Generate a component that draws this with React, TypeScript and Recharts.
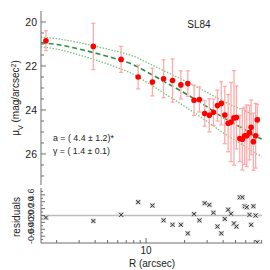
import React from 'react';
import { ComposedChart, Scatter, Line, XAxis, YAxis, ErrorBar, ReferenceLine } from 'recharts';

// measured profile (R in arcsec, mu_V in mag/arcsec^2)
const radii = [1.65, 3.87, 6.38, 8.67, 11.2, 13.7, 16.1, 18.7, 21.2, 23.7, 26.1, 28.7, 31.2, 33.6, 36.1, 38.7, 41.2, 43.8, 46.1, 48.6, 50.8, 54.0, 56.5, 59.0, 61.2, 64.3, 66.2, 68.9, 71.8, 73.9];
const surfaceBrightness = [20.85, 21.11, 21.7, 22.5, 22.73, 22.58, 22.66, 22.86, 22.8, 23.56, 23.52, 24.16, 24.24, 24.1, 23.8, 23.7, 24.23, 24.6, 24.55, 24.36, 24.34, 25.3, 25.33, 25.17, 25.17, 25.03, 24.79, 25.44, 25.17, 24.45];
const errors = [0.45, 1.05, 0.59, 0.54, 0.63, 0.86, 0.98, 0.64, 0.58, 0.69, 0.57, 0.58, 0.75, 0.6, 0.7, 0.98, 1.3, 1.3, 1.8, 2.15, 1.43, 1.05, 1.4, 1.3, 1.4, 1.24, 1.24, 1.3, 1.47, 0.7];
const residuals = [-0.06, -0.16, 0.02, 0.39, 0.29, -0.14, -0.27, -0.27, -0.52, 0.04, -0.14, 0.36, 0.31, 0.08, -0.32, -0.52, -0.1, 0.17, 0.05, -0.23, -0.32, 0.53, 0.53, 0.27, 0.24, 0.02, -0.27, 0.27, 0.0, -0.78];

// fitted model and its band
const modelR = [1.5, 2, 3, 4, 6, 8, 10, 15, 20, 30, 40, 50, 60, 70, 80];
const modelMu = [20.94, 21.02, 21.23, 21.41, 21.7, 21.95, 22.25, 22.82, 23.23, 23.86, 24.34, 24.66, 24.91, 25.17, 25.32];
const upperMu = [20.69, 20.76, 20.94, 21.1, 21.35, 21.56, 21.82, 22.32, 22.67, 23.2, 23.6, 23.86, 24.05, 24.27, 24.37];
const lowerMu = [21.13, 21.23, 21.5, 21.72, 22.08, 22.38, 22.72, 23.37, 23.83, 24.52, 25.04, 25.39, 25.66, 25.94, 26.1];

const rTicks = [2, 3, 4, 5, 6, 7, 8, 9, 10, 20, 30, 40, 50, 60, 70, 80];
const muTicks = [20, 20.5, 21, 21.5, 22, 22.5, 23, 23.5, 24, 24.5, 25, 25.5, 26, 26.5, 27];
const muLabels = [20, 22, 24, 26];
const resTicks = [-0.7, -0.6, -0.5, -0.4, -0.3, -0.2, -0.1, 0, 0.1, 0.2, 0.3, 0.4, 0.5, 0.6, 0.7];
const resLabels: { [k: string]: string } = { '-0.6': '-0.6', '-0.4': '-0.4', '-0.2': '-0.2', '0': '0.0', '0.2': '0.2', '0.4': '0.4', '0.6': '0.6' };

const mainData = radii.map((r, i) => ({ r, mu: surfaceBrightness[i], err: errors[i] }));
const modelData = modelR.map((r, i) => ({ r, mu: modelMu[i] }));
const upperData = modelR.map((r, i) => ({ r, mu: upperMu[i] }));
const lowerData = modelR.map((r, i) => ({ r, mu: lowerMu[i] }));
const residualData = radii.map((r, i) => ({ r, res: residuals[i] }));

const FONT = '"Liberation Sans", Arial, sans-serif';
const AXIS = '#6e6e6e';
const R_DOMAIN = [1.51, 80.5];
const MU_DOMAIN = [19.5, 27.41];

const isMuMajor = (v: number) => muLabels.includes(v);
const isResMajor = (v: number) => resLabels[String(Math.round(v * 10) / 10)] !== undefined;

const MuLeftTick = (p: any) => {
  const v = p.payload.value;
  const len = isMuMajor(v) ? 5 : 3;
  return (
    <g>
      <line x1={p.x} y1={p.y} x2={p.x + len} y2={p.y} stroke={AXIS} />
      {isMuMajor(v) && (
        <text x={p.x - 4} y={p.y + 4} textAnchor="end" fontSize={10.5} fontFamily={FONT} fill="#222">{v}</text>
      )}
    </g>
  );
};

const MuRightTick = (p: any) => {
  const len = isMuMajor(p.payload.value) ? 5 : 3;
  return <line x1={p.x} y1={p.y} x2={p.x - len} y2={p.y} stroke={AXIS} />;
};

const TopTick = (p: any) => {
  const len = p.payload.value === 10 ? 5 : 3;
  return <line x1={p.x} y1={p.y} x2={p.x} y2={p.y + len} stroke={AXIS} />;
};

const BottomTick = (p: any) => {
  const len = p.payload.value === 10 ? 5 : 3;
  return <line x1={p.x} y1={p.y} x2={p.x} y2={p.y - len} stroke={AXIS} />;
};

const ResBottomTick = (p: any) => {
  const v = p.payload.value;
  const len = v === 10 ? 5 : 3;
  return (
    <g>
      <line x1={p.x} y1={p.y} x2={p.x} y2={p.y - len} stroke={AXIS} />
      {v === 10 && (
        <text x={p.x} y={p.y + 11} textAnchor="middle" fontSize={10} fontFamily={FONT} fill="#222">10</text>
      )}
    </g>
  );
};

const ResLeftTick = (p: any) => {
  const v = p.payload.value;
  const key = String(Math.round(v * 10) / 10);
  const lab = resLabels[key];
  const len = lab ? 4 : 2;
  return (
    <g>
      <line x1={p.x} y1={p.y} x2={p.x + len} y2={p.y} stroke={AXIS} />
      {lab && (
        <text transform={`translate(34, ${p.y}) rotate(-90)`} textAnchor="middle" fontSize={9} fontFamily={FONT} fill="#333">{lab}</text>
      )}
    </g>
  );
};

const ResRightTick = (p: any) => {
  const len = isResMajor(p.payload.value) ? 4 : 2;
  return <line x1={p.x} y1={p.y} x2={p.x - len} y2={p.y} stroke={AXIS} />;
};

const RedDot = (p: any) => <circle cx={p.cx} cy={p.cy} r={2.8} fill="#ff0000" />;

const Cross = (p: any) => (
  <g>
    <rect x={p.cx - 2.5} y={p.cy - 2.5} width={5} height={5} fill="#d4d4d4" />
    <line x1={p.cx - 2} y1={p.cy - 2} x2={p.cx + 2} y2={p.cy + 2} stroke="#333" strokeWidth={1} />
    <line x1={p.cx - 2} y1={p.cy + 2} x2={p.cx + 2} y2={p.cy - 2} stroke="#333" strokeWidth={1} />
  </g>
);

export default function App() {
  return (
    <div style={{ position: 'absolute', left: 0, top: 0, width: 270, height: 270, background: '#fff' }}>
      <div style={{ position: 'absolute', left: 0, top: 0 }}>
        <ComposedChart width={270} height={188} margin={{ top: 11, right: 8, bottom: 3, left: 0 }}>
          <XAxis dataKey="r" type="number" scale="log" domain={R_DOMAIN} allowDataOverflow ticks={rTicks}
            interval={0} height={0} tickSize={0} tickMargin={0} tick={BottomTick} stroke={AXIS} />
          <XAxis xAxisId="top" orientation="top" type="number" scale="log" domain={R_DOMAIN} allowDataOverflow
            ticks={rTicks} interval={0} height={0} tickSize={0} tickMargin={0} tick={TopTick} stroke={AXIS} />
          <YAxis dataKey="mu" type="number" domain={MU_DOMAIN} allowDataOverflow reversed ticks={muTicks}
            interval={0} width={41} tickSize={0} tickMargin={0} tick={MuLeftTick} stroke={AXIS} />
          <YAxis yAxisId="right" orientation="right" type="number" domain={MU_DOMAIN} allowDataOverflow reversed
            ticks={muTicks} interval={0} width={0} tickSize={0} tickMargin={0} tick={MuRightTick} stroke={AXIS} />
          <Line data={upperData} dataKey="mu" type="monotone" stroke="#74c47a" strokeWidth={1.3}
            strokeDasharray="1.5 1.5" dot={false} isAnimationActive={false} />
          <Line data={lowerData} dataKey="mu" type="monotone" stroke="#74c47a" strokeWidth={1.3}
            strokeDasharray="1.5 1.5" dot={false} isAnimationActive={false} />
          <Line data={modelData} dataKey="mu" type="monotone" stroke="#2e8f45" strokeWidth={1.6}
            strokeDasharray="5 3" dot={false} isAnimationActive={false} />
          <Scatter data={mainData} dataKey="mu" shape={RedDot} isAnimationActive={false}>
            <ErrorBar dataKey="err" direction="y" width={2} stroke="#ffabab" strokeWidth={1.3} isAnimationActive={false} />
          </Scatter>
        </ComposedChart>
      </div>
      <div style={{ position: 'absolute', left: 0, top: 188 }}>
        <ComposedChart width={270} height={82} margin={{ top: 0, right: 8, bottom: 0, left: 0 }}>
          <XAxis dataKey="r" type="number" scale="log" domain={R_DOMAIN} allowDataOverflow ticks={rTicks}
            interval={0} height={27} tickSize={0} tickMargin={0} tick={ResBottomTick} stroke={AXIS} />
          <XAxis xAxisId="top" orientation="top" type="number" scale="log" domain={R_DOMAIN} allowDataOverflow
            ticks={rTicks} interval={0} height={0} tickSize={0} tickMargin={0} tick={TopTick} stroke={AXIS} />
          <YAxis dataKey="res" type="number" domain={[-0.8, 0.8]} allowDataOverflow ticks={resTicks}
            interval={0} width={41} tickSize={0} tickMargin={0} tick={ResLeftTick} stroke={AXIS} />
          <YAxis yAxisId="right" orientation="right" type="number" domain={[-0.8, 0.8]} allowDataOverflow
            ticks={resTicks} interval={0} width={0} tickSize={0} tickMargin={0} tick={ResRightTick} stroke={AXIS} />
          <ReferenceLine y={0} stroke="#bdbdbd" strokeWidth={1.5} />
          <Scatter data={residualData} dataKey="res" shape={Cross} isAnimationActive={false} />
        </ComposedChart>
      </div>
      <svg width={270} height={270} style={{ position: 'absolute', left: 0, top: 0, pointerEvents: 'none' }}
        fontFamily={FONT} fill="#222">
        <text transform="translate(18.5, 98) rotate(-90)" textAnchor="middle" fontSize={10}>
          μ<tspan baselineShift="sub" fontSize={7}>V</tspan> (mag/arcsec<tspan baselineShift="super" fontSize={7}>2</tspan>)
        </text>
        <text transform="translate(20, 217) rotate(-90)" textAnchor="middle" fontSize={10}>residuals</text>
        <text x={199} y={28} textAnchor="middle" fontSize={10}>SL84</text>
        <text x={53} y={141} fontSize={8.8}>a = ( 4.4 ± 1.2)*</text>
        <text x={53} y={154} fontSize={8.8}>γ = ( 1.4 ± 0.1)</text>
        <text x={152} y={267} textAnchor="middle" fontSize={10}>R (arcsec)</text>
      </svg>
    </div>
  );
}
